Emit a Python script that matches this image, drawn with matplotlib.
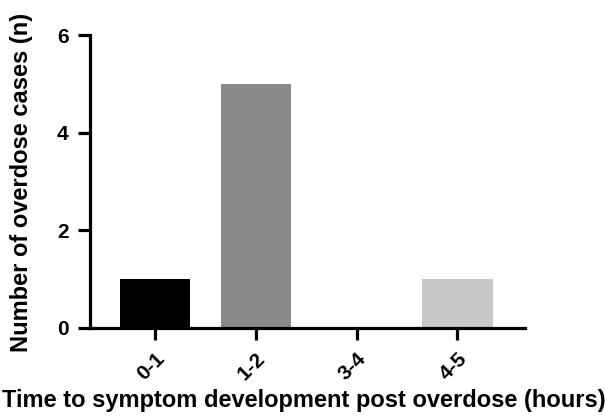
import matplotlib
matplotlib.use('Agg')
from matplotlib import pyplot as plt

# data
categories = ['0-1', '1-2', '3-4', '4-5']
cases = [1, 5, 0, 1]
bar_colors = ['#000000', '#8a8a8a', '#b0b0b0', '#c8c8c8']
y_ticks = [0, 2, 4, 6]

plt.rcParams['font.family'] = ['Liberation Sans', 'DejaVu Sans']
plt.rcParams['font.weight'] = 'bold'

fig = plt.figure(figsize=(6.05, 4.19), dpi=100)
ax = fig.add_axes([90 / 605, 1 - 327.5 / 419, (525 - 90) / 605, (327.5 - 35) / 419])

x = list(range(len(categories)))
ax.bar(x, cases, width=0.7, color=bar_colors)

ax.set_xlim(-0.645, 3.67)
ax.set_ylim(0, 6)
ax.set_yticks(y_ticks)
ax.set_xticks(x)
ax.set_xticklabels(categories, rotation=45, ha='right', rotation_mode='anchor')

for side in ['top', 'right']:
    ax.spines[side].set_visible(False)
for side in ['left', 'bottom']:
    ax.spines[side].set_linewidth(2.3)
ax.tick_params(axis='both', length=8.5, width=2.3, labelsize=15)
ax.tick_params(axis='x', pad=7)
ax.tick_params(axis='y', pad=7)
for lbl in ax.get_xticklabels() + ax.get_yticklabels():
    lbl.set_fontweight('bold')

ax.set_ylabel('Number of overdose cases (n)', fontsize=17, fontweight='bold')
ax.set_xlabel('Time to symptom development post overdose (hours)', fontsize=17,
              fontweight='bold')
# place axis titles where they sit in the reference (pixel coords -> axes coords)
ax.yaxis.set_label_coords((22 - 90) / 435, 0.5 + (180 - 181) / 292.5)
ax.xaxis.set_label_coords((304 - 90) / 435, -(401 - 327.5) / 292.5)
ax.xaxis.label.set_va('center')
ax.yaxis.label.set_va('center')

plt.savefig('out.png', dpi=100)
